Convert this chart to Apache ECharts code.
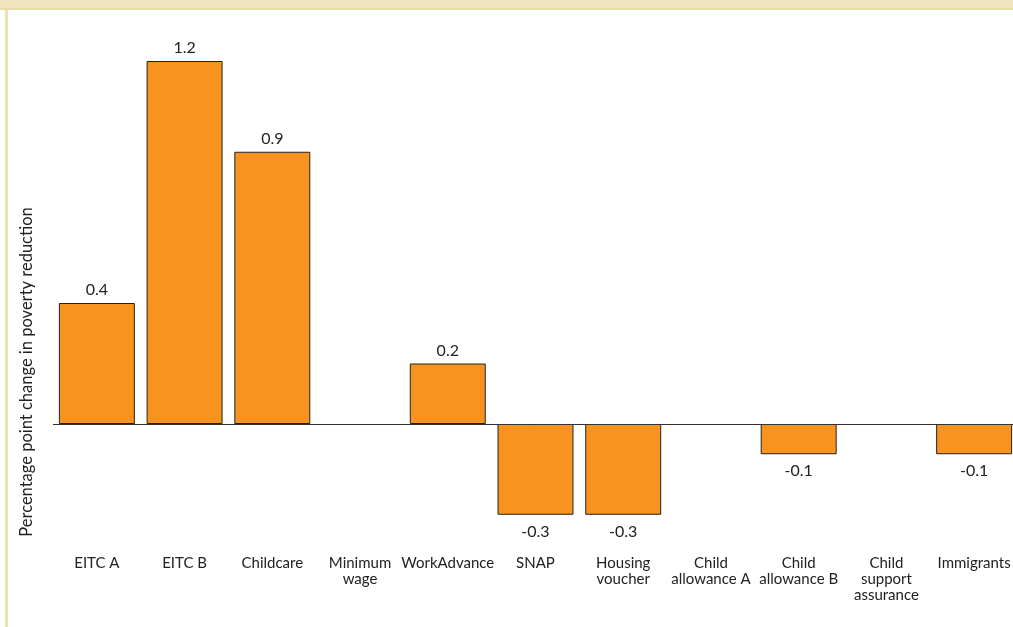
<!DOCTYPE html>
<html>
<head>
<meta charset="utf-8">
<script src="https://cdn.jsdelivr.net/npm/echarts@6/dist/echarts.min.js"></script>
<style>html,body{margin:0;padding:0;background:#fff;overflow:hidden}#c{width:1018px;height:627px}</style>
</head>
<body>
<div id="c"></div>
<script>
const categories = ["EITC A","EITC B","Childcare","Minimum\nwage","WorkAdvance","SNAP","Housing\nvoucher","Child\nallowance A","Child\nallowance B","Child\nsupport\nassurance","Immigrants"];
const values = [0.4, 1.2, 0.9, 0, 0.2, -0.3, -0.3, 0, -0.1, 0, -0.1];
const yTitle = "Percentage point change in poverty reduction";

const chart = echarts.init(document.getElementById('c'));
const font = 'Lato, "DejaVu Sans", sans-serif';
chart.setOption({
  animation: false,
  textStyle: { fontFamily: font },
  grid: { left: 53, right: 0, top: 61, bottom: 627 - 545 },
  xAxis: {
    type: 'category', data: categories,
    axisLine: { show: false, onZero: false }, axisTick: { show: false },
    axisLabel: { color: '#222', fontSize: 15, lineHeight: 16, margin: 10, interval: 0, fontFamily: font }
  },
  yAxis: {
    type: 'value', min: -0.4, max: 1.2,
    axisLine: { show: false }, axisTick: { show: false }, axisLabel: { show: false }, splitLine: { show: false }
  },
  graphic: [
    { type: 'rect', shape: { x: 0, y: 0, width: 1018, height: 9 }, style: { fill: '#F0E5C0' }, z: 10 },
    { type: 'rect', shape: { x: 0, y: 8, width: 1018, height: 2 }, style: { fill: '#EADBAA' }, z: 10 },
    { type: 'rect', shape: { x: 5, y: 10, width: 3, height: 617 }, style: { fill: '#EEE0B2' }, z: 10 },
    { type: 'text', x: 27, y: 372, rotation: Math.PI / 2, style: { text: yTitle, fill: '#222', font: '16.5px ' + font, textAlign: 'center', textVerticalAlign: 'middle' } }
  ],
  series: [{
    type: 'bar', barCategoryGap: '13.4%',
    data: values.map(v => ({
      value: v,
      label: v < 0 ? { position: 'bottom', distance: 9 } : { position: 'top', distance: 5 },
      itemStyle: v === 0 ? { borderWidth: 0 } : {}
    })),
    itemStyle: { color: '#F7931E', borderColor: '#222', borderWidth: 1 },
    label: {
      show: true, color: '#222', fontSize: 16, fontFamily: font,
      formatter: p => p.value === 0 ? '' : p.value.toFixed(1)
    },
    markLine: {
      silent: true, symbol: 'none', label: { show: false },
      lineStyle: { color: '#333', width: 1, type: 'solid' },
      data: [{ yAxis: 0 }]
    }
  }]
});
</script>
</body>
</html>
